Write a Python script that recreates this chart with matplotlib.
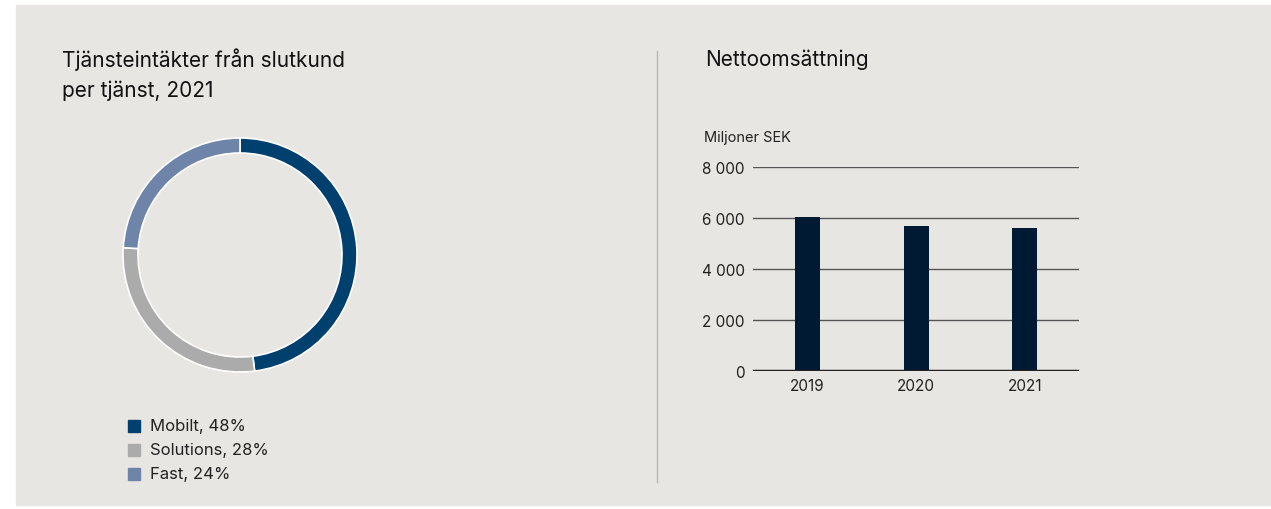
import matplotlib.pyplot as plt
from matplotlib.patches import Rectangle

plt.rcParams['font.family'] = ['Inter', 'DejaVu Sans']

# data
segments = ["Mobilt", "Solutions", "Fast"]
shares = [48, 28, 24]
seg_colors = ["#00406e", "#ababab", "#6e84a8"]

years = ["2019", "2020", "2021"]
sales = [6020, 5680, 5600]
yticks = [0, 2000, 4000, 6000, 8000]

BG = "#e8e6e2"
W, H = 1271, 510

fig = plt.figure(figsize=(W / 100, H / 100), dpi=100)
fig.patch.set_facecolor("white")
fig.patches.append(Rectangle((16 / W, 4 / H), 1 - 16 / W, (504 - 4) / H,
                             transform=fig.transFigure, color=BG, zorder=-10))

# titles
fig.text(62 / W, 1 - 60 / H, "Tjänsteintäkter från slutkund",
         fontsize=15, va="center", ha="left", color="#111111")
fig.text(62 / W, 1 - 91 / H, "per tjänst, 2021",
         fontsize=15, va="center", ha="left", color="#111111")
fig.text(705 / W, 1 - 60 / H, "Nettoomsättning", fontsize=15, va="center",
         ha="left", color="#111111")

# divider
fig.add_artist(plt.Line2D([657 / W, 657 / W], [1 - 52 / H, 1 - 483 / H],
                          transform=fig.transFigure, color="#b8b8b8", lw=1))

# donut
cx, cy, r = 240, 256, 117
half = 125
ax1 = fig.add_axes([(cx - half) / W, (H - cy - half) / H, 2 * half / W, 2 * half / H])
ax1.pie(shares, colors=seg_colors, startangle=90, counterclock=False,
        radius=1, wedgeprops=dict(width=15 / r, edgecolor="white", linewidth=1.2))
lim = half / r
ax1.set_xlim(-lim, lim)
ax1.set_ylim(-lim, lim)
ax1.set_aspect("equal")
ax1.axis("off")

# legend
for i, (s, p, c) in enumerate(zip(segments, shares, seg_colors)):
    y = 427 + i * 24
    fig.patches.append(Rectangle((128 / W, 1 - (y + 6) / H), 12 / W, 12 / H,
                                 transform=fig.transFigure, color=c))
    fig.text(150 / W, 1 - y / H, f"{s}, {p}%", fontsize=12, va="center",
             ha="left", color="#222222")

# bar chart
ax2 = fig.add_axes([753.3 / W, (H - 371.7) / H, 326 / W, 204 / H])
ax2.set_facecolor("none")
x = range(len(years))
ax2.bar(x, sales, width=0.23, color="#001a33", zorder=3)
ax2.set_xlim(-0.5, 2.5)
ax2.set_ylim(0, 8000)
ax2.set_yticks(yticks)
ax2.set_yticklabels([f"{v:,}".replace(",", " ") for v in yticks])
ax2.set_xticks(list(x))
ax2.set_xticklabels(years)
for v in yticks[1:]:
    ax2.axhline(v, color="#555555", lw=1, zorder=1)
ax2.axhline(0, color="#222222", lw=2.5, zorder=4)
for sp in ax2.spines.values():
    sp.set_visible(False)
ax2.tick_params(axis="both", length=0, labelsize=11, colors="#222222")
ax2.tick_params(axis="y", pad=6)
ax2.tick_params(axis="x", pad=5)
fig.text(704 / W, 1 - 138 / H, "Miljoner SEK", fontsize=10.5, va="center",
         ha="left", color="#222222")

fig.savefig("out.png", dpi=100, facecolor=fig.get_facecolor())
